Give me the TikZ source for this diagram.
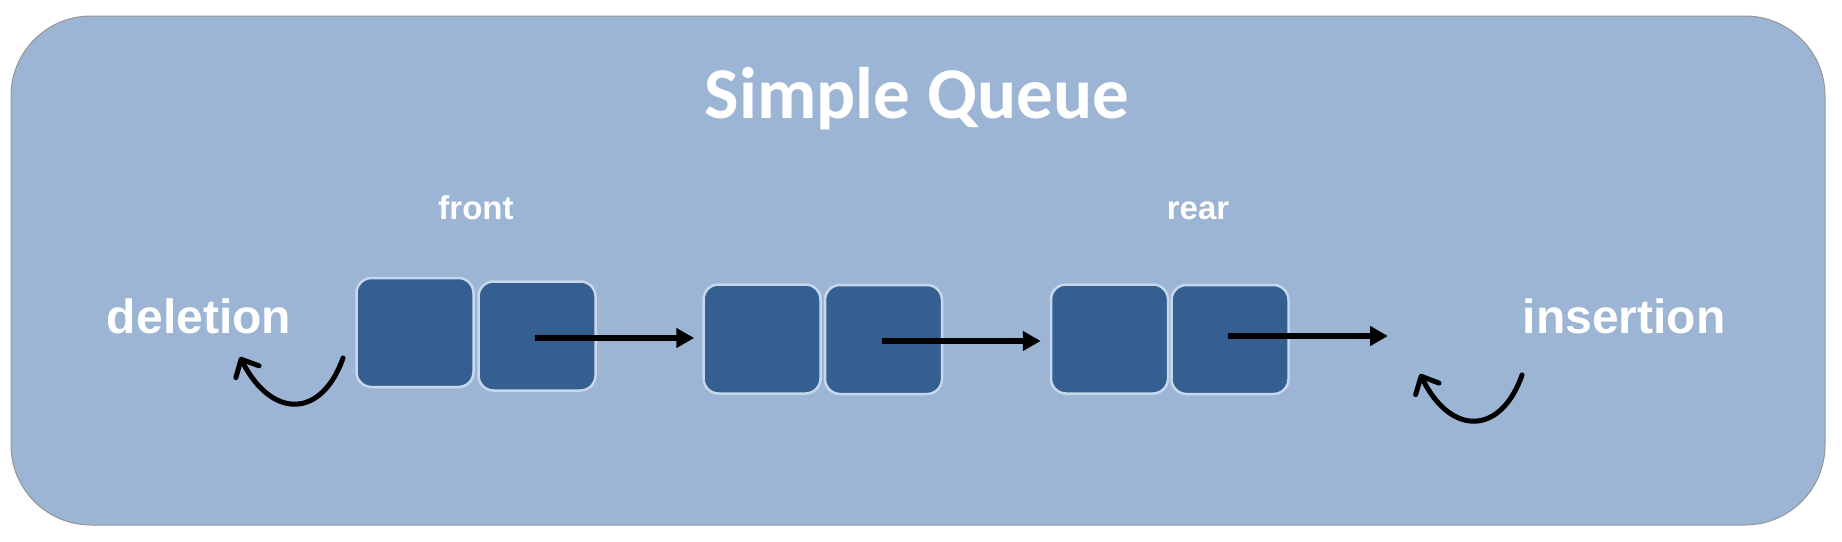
\documentclass[tikz,border=0pt]{standalone}
\usepackage{fontspec}
\setmainfont{Liberation Sans}
\newfontfamily\titlefont{Carlito}
\usetikzlibrary{arrows.meta}
\definecolor{bgblue}{RGB}{156,181,213}
\definecolor{bgedge}{RGB}{150,150,150}
\definecolor{boxblue}{RGB}{53,95,145}
\definecolor{boxedge}{RGB}{200,216,236}
\tikzset{
  cell/.style={draw=boxedge, line width=2.5pt, fill=boxblue, rounded corners=15pt,
    minimum width=117pt, minimum height=109pt, inner sep=0pt},
  lbl/.style={text=white, font=\bfseries\fontsize{48}{50}\selectfont, anchor=base, inner sep=0pt},
  ptr/.style={text=white, font=\bfseries\fontsize{33}{35}\selectfont, anchor=base, inner sep=0pt},
  link/.style={line width=6pt, -{Triangle[length=18pt,width=19pt]}},
  curl/.style={line width=5pt, line cap=round, -{Straight Barb[length=14pt,width=26pt,round]}}
}
\begin{document}
\begin{tikzpicture}[x=1pt,y=-1pt]
\useasboundingbox (0,0) rectangle (1842,541);
\draw[fill=bgblue, draw=bgedge, line width=1pt, rounded corners=80pt] (11,16) rectangle (1825,525);
\node[text=white, font=\titlefont\bfseries\fontsize{73}{75}\selectfont, anchor=base, inner sep=0pt] (title) at (917,118) {Simple Queue};
\node[ptr] (front) at (476,219) {front};
\node[ptr] (rear) at (1198,219) {rear};
\node[lbl] (del) at (199,333) {deletion};
\node[lbl] (ins) at (1624,333) {insertion};
\node[cell] (n1l) at (415,332.5) {};
\node[cell] (n1r) at (537,336) {};
\node[cell] (n2l) at (762,339) {};
\node[cell] (n2r) at (883.5,339.5) {};
\node[cell] (n3l) at (1109.5,339) {};
\node[cell] (n3r) at (1230,339.5) {};
\coordinate (a1s) at (535,338);
\coordinate (a2s) at (882,341);
\coordinate (a3s) at (1228,336);
\coordinate (tail) at (1388,336);
\draw[link, shorten >=8pt] (a1s) -- (a1s -| n2l.west);
\draw[link, shorten >=9pt] (a2s) -- (a2s -| n3l.west);
\draw[link] (a3s) -- (tail);
\coordinate (d0) at (343,358);
\coordinate (d1) at (240,357);
\coordinate (i0) at (1522,375);
\coordinate (i1) at (1420,374);
\draw[curl] (d0) .. controls (322,418) and (272,420) .. (d1);
\draw[curl] (i0) .. controls (1501,435) and (1451,437) .. (i1);
\end{tikzpicture}
\end{document}
